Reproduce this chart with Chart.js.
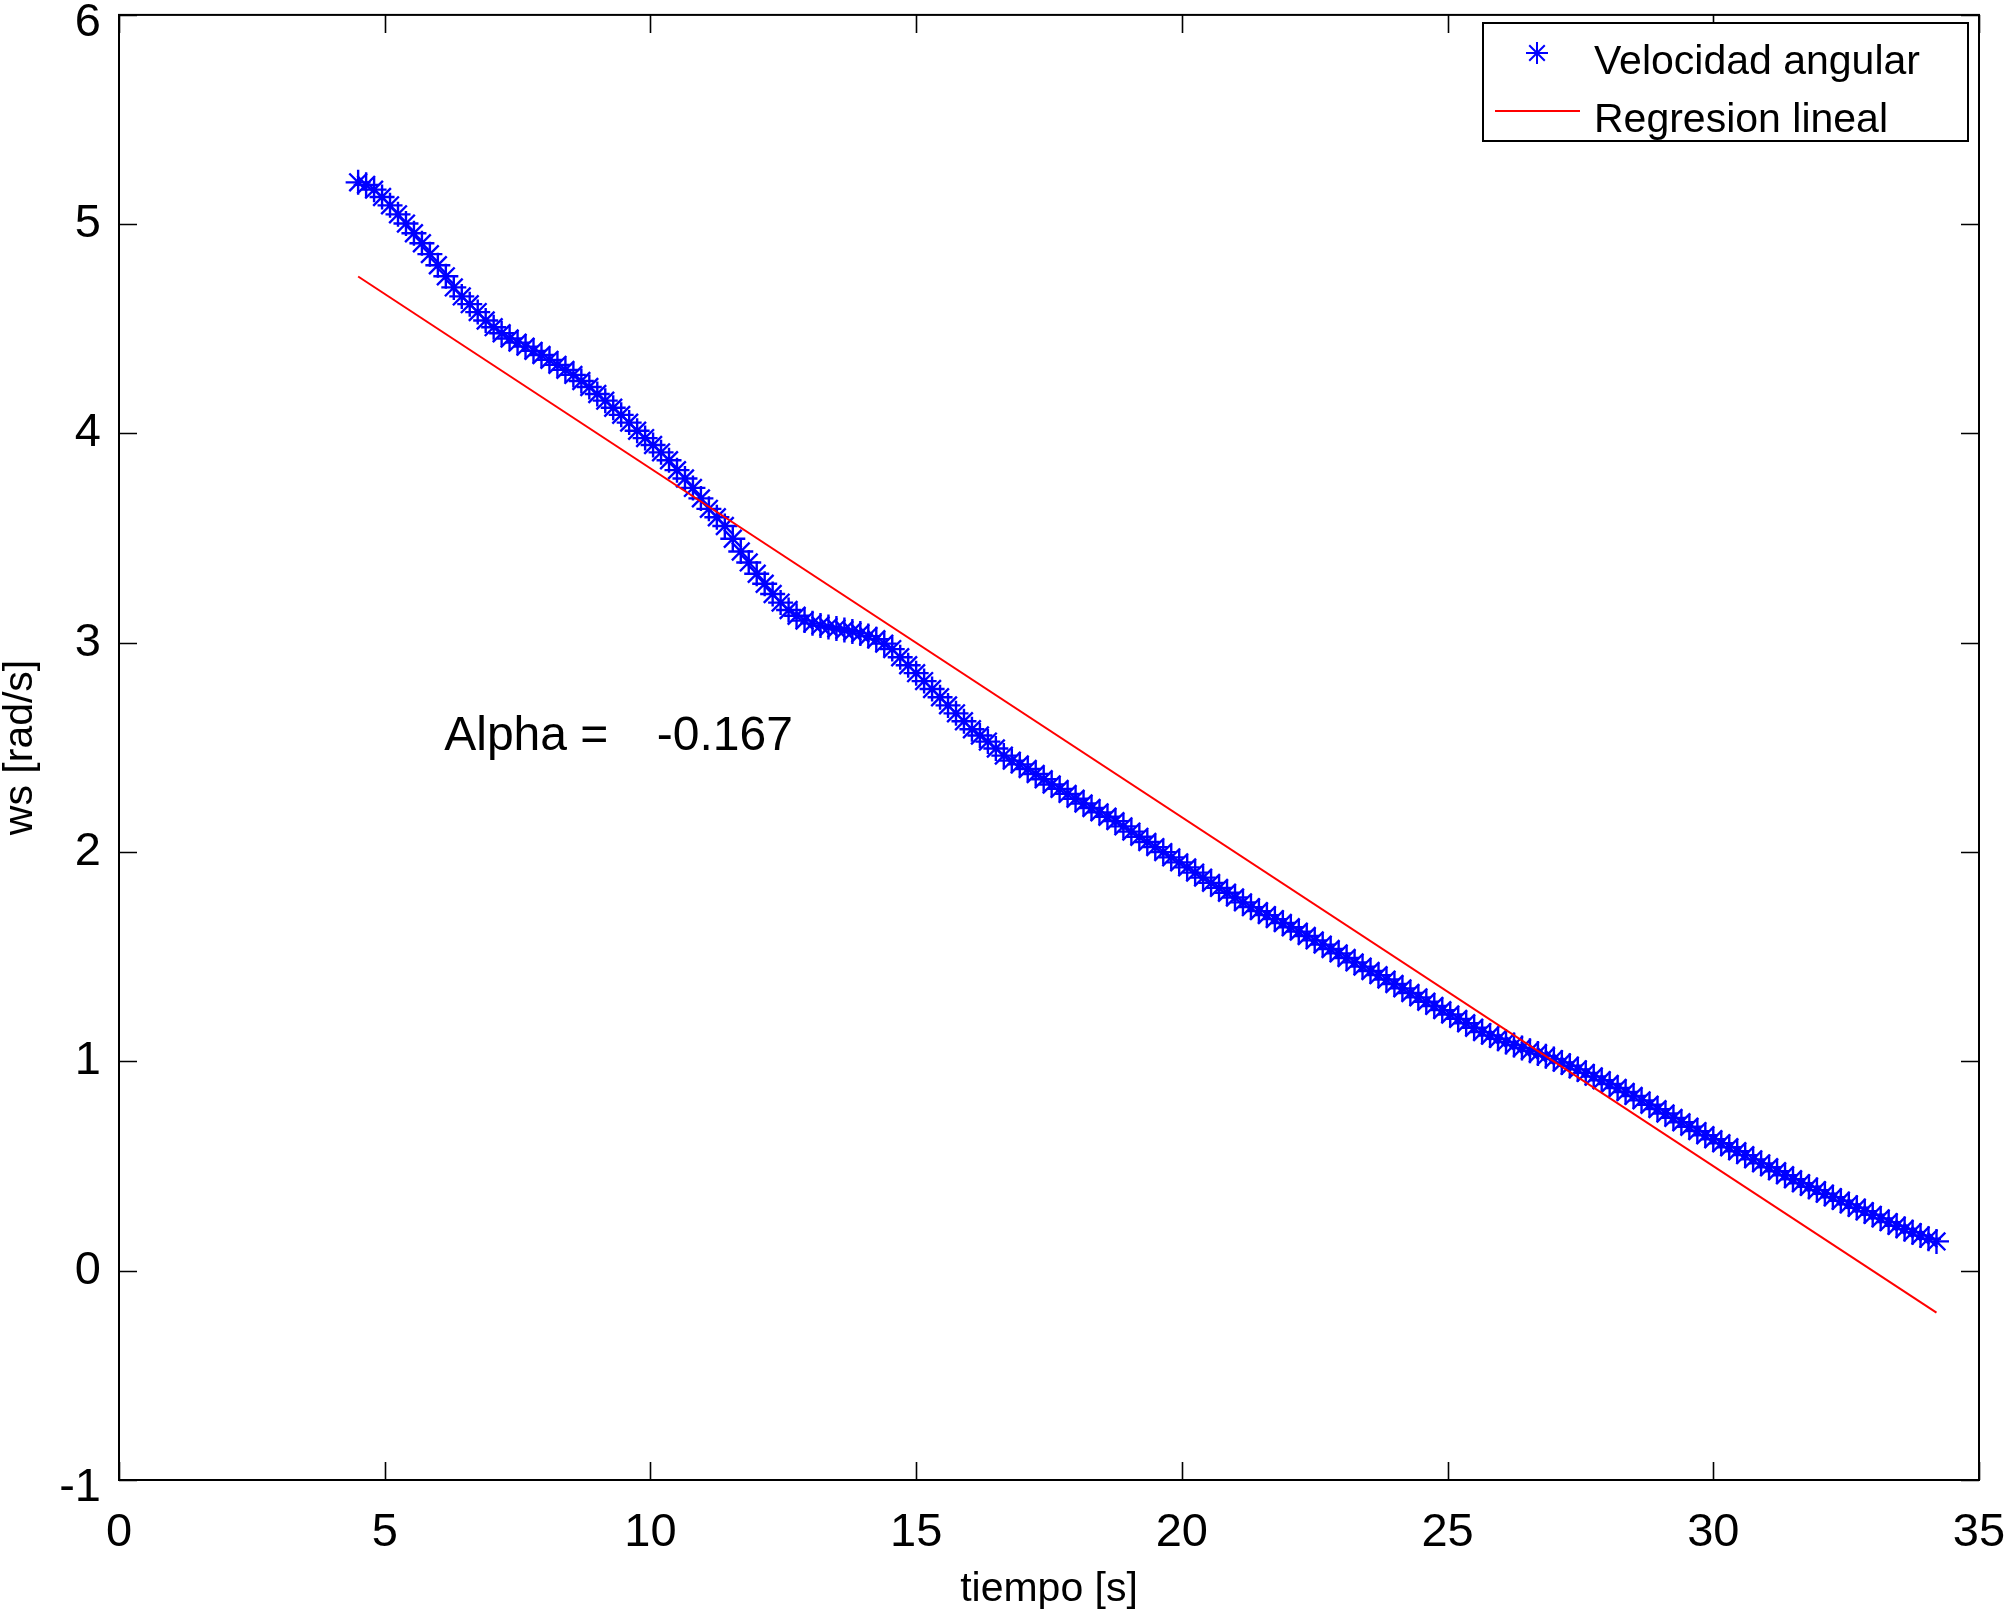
<!DOCTYPE html>
<html>
<head>
<meta charset="utf-8">
<script src="https://cdn.jsdelivr.net/npm/chart.js@4.4.1/dist/chart.umd.min.js"></script>
<style>
html,body{margin:0;padding:0;background:#fff;}
canvas{display:block;}
</style>
</head>
<body>
<canvas id="c" width="2007" height="1610" style="width:2007px;height:1610px"></canvas>
<script>
// ---- data ----
const tiempo = [
 4.50,4.65,4.80,4.95,5.10,5.25,5.40,5.55,5.70,5.85,
 6.00,6.15,6.30,6.45,6.60,6.75,6.90,7.05,7.20,7.35,
 7.50,7.65,7.80,7.95,8.10,8.25,8.40,8.55,8.70,8.85,
 9.00,9.15,9.30,9.45,9.60,9.75,9.90,10.05,10.20,10.35,
 10.50,10.65,10.80,10.95,11.10,11.25,11.40,11.55,11.70,11.85,
 12.00,12.15,12.30,12.45,12.60,12.75,12.90,13.05,13.20,13.35,
 13.50,13.65,13.80,13.95,14.10,14.25,14.40,14.55,14.70,14.85,
 15.00,15.15,15.30,15.45,15.60,15.75,15.90,16.05,16.20,16.35,
 16.50,16.65,16.80,16.95,17.10,17.25,17.40,17.55,17.70,17.85,
 18.00,18.15,18.30,18.45,18.60,18.75,18.90,19.05,19.20,19.35,
 19.50,19.65,19.80,19.95,20.10,20.25,20.40,20.55,20.70,20.85,
 21.00,21.15,21.30,21.45,21.60,21.75,21.90,22.05,22.20,22.35,
 22.50,22.65,22.80,22.95,23.10,23.25,23.40,23.55,23.70,23.85,
 24.00,24.15,24.30,24.45,24.60,24.75,24.90,25.05,25.20,25.35,
 25.50,25.65,25.80,25.95,26.10,26.25,26.40,26.55,26.70,26.85,
 27.00,27.15,27.30,27.45,27.60,27.75,27.90,28.05,28.20,28.35,
 28.50,28.65,28.80,28.95,29.10,29.25,29.40,29.55,29.70,29.85,
 30.00,30.15,30.30,30.45,30.60,30.75,30.90,31.05,31.20,31.35,
 31.50,31.65,31.80,31.95,32.10,32.25,32.40,32.55,32.70,32.85,
 33.00,33.15,33.30,33.45,33.60,33.75,33.90,34.05,34.20
];
const velocidadAngular = [
 5.200,5.188,5.165,5.130,5.090,5.047,5.003,4.957,4.909,4.857,
 4.804,4.751,4.698,4.655,4.618,4.580,4.540,4.508,4.479,4.454,
 4.434,4.415,4.395,4.375,4.352,4.328,4.304,4.280,4.251,4.222,
 4.189,4.157,4.123,4.089,4.052,4.013,3.978,3.945,3.910,3.872,
 3.825,3.785,3.740,3.690,3.640,3.600,3.558,3.497,3.436,3.384,
 3.330,3.282,3.233,3.192,3.157,3.129,3.106,3.093,3.083,3.075,
 3.068,3.061,3.054,3.045,3.032,3.017,2.996,2.970,2.931,2.893,
 2.855,2.817,2.779,2.740,2.701,2.663,2.625,2.587,2.557,2.528,
 2.495,2.461,2.437,2.419,2.397,2.373,2.348,2.323,2.302,2.278,
 2.255,2.232,2.211,2.190,2.169,2.148,2.123,2.098,2.073,2.048,
 2.024,2.000,1.975,1.951,1.927,1.902,1.878,1.853,1.829,1.806,
 1.783,1.760,1.737,1.718,1.699,1.680,1.661,1.641,1.620,1.599,
 1.578,1.558,1.537,1.516,1.494,1.473,1.453,1.432,1.412,1.391,
 1.370,1.349,1.327,1.306,1.285,1.265,1.245,1.224,1.203,1.182,
 1.161,1.140,1.124,1.108,1.093,1.078,1.064,1.051,1.038,1.025,
 1.011,0.995,0.979,0.962,0.945,0.928,0.910,0.892,0.873,0.854,
 0.835,0.814,0.793,0.772,0.751,0.730,0.709,0.688,0.667,0.647,
 0.628,0.609,0.590,0.571,0.552,0.532,0.513,0.494,0.475,0.456,
 0.437,0.418,0.401,0.385,0.368,0.351,0.334,0.317,0.301,0.284,
 0.267,0.250,0.232,0.215,0.199,0.184,0.168,0.153,0.140
];
const regresionT = [4.5, 34.2];
const regresionW = [4.75, -0.20];
const xTickValues = [0, 5, 10, 15, 20, 25, 30, 35];
const yTickValues = [-1, 0, 1, 2, 3, 4, 5, 6];
const serieNombres = ['Velocidad angular', 'Regresion lineal'];
const textoAlpha = 'Alpha =';
const valorAlpha = '-0.167';
const ejeX = 'tiempo [s]';
const ejeY = 'ws [rad/s]';

// ---- styling ----
const FONT = '"Liberation Sans", Arial, Helvetica, sans-serif';
const BLUE = '#0000ff';
const RED = '#ff0000';
const TICK_LEN = 18;

const puntos = tiempo.map((t, i) => ({x: t, y: velocidadAngular[i]}));
const recta = regresionT.map((t, i) => ({x: t, y: regresionW[i]}));

const framePlugin = {
  id: 'framePlugin',
  afterDraw(chart) {
    const {ctx, chartArea: a, scales: {x, y}} = chart;
    ctx.save();
    // frame
    ctx.strokeStyle = '#000';
    ctx.lineWidth = 2;
    ctx.strokeRect(a.left, a.top, a.right - a.left, a.bottom - a.top);
    // inward ticks on all four sides
    ctx.lineWidth = 1.6;
    ctx.beginPath();
    x.ticks.forEach(t => {
      const px = Math.round(x.getPixelForValue(t.value)) + 0.5;
      ctx.moveTo(px, a.bottom); ctx.lineTo(px, a.bottom - TICK_LEN);
      ctx.moveTo(px, a.top); ctx.lineTo(px, a.top + TICK_LEN);
    });
    y.ticks.forEach(t => {
      const py = Math.round(y.getPixelForValue(t.value)) + 0.5;
      ctx.moveTo(a.left, py); ctx.lineTo(a.left + TICK_LEN, py);
      ctx.moveTo(a.right, py); ctx.lineTo(a.right - TICK_LEN, py);
    });
    ctx.stroke();
    // y tick labels
    ctx.fillStyle = '#000';
    ctx.font = '47px ' + FONT;
    ctx.textAlign = 'right';
    ctx.textBaseline = 'middle';
    const n = y.ticks.length;
    y.ticks.forEach((t, i) => {
      let py = y.getPixelForValue(t.value);
      if (i === 0 || i === n - 1) py += 8;
      ctx.fillText(t.label, a.left - 18, py);
    });
    // alpha annotation
    ctx.font = '48px ' + FONT;
    ctx.textAlign = 'left';
    ctx.textBaseline = 'alphabetic';
    ctx.fillText(textoAlpha, x.getPixelForValue(6.12), y.getPixelForValue(2.486));
    ctx.fillText(valorAlpha, x.getPixelForValue(10.12), y.getPixelForValue(2.486));
    // legend box
    const lx = 1483, ly = 23, lw = 485, lh = 118;
    ctx.fillStyle = '#fff';
    ctx.fillRect(lx, ly, lw, lh);
    ctx.strokeStyle = '#000';
    ctx.lineWidth = 2;
    ctx.strokeRect(lx, ly, lw, lh);
    ctx.strokeStyle = BLUE;
    ctx.fillStyle = BLUE;
    Chart.helpers.drawPoint(ctx, {pointStyle: 'star', radius: 11, rotation: 0, borderWidth: 2.2}, 1537, 53);
    ctx.strokeStyle = RED;
    ctx.lineWidth = 2;
    ctx.beginPath();
    ctx.moveTo(1495, 111); ctx.lineTo(1580, 111);
    ctx.stroke();
    ctx.fillStyle = '#000';
    ctx.font = '41px ' + FONT;
    ctx.textAlign = 'left';
    ctx.textBaseline = 'alphabetic';
    ctx.fillText(serieNombres[0], 1594, 74);
    ctx.fillText(serieNombres[1], 1594, 132);
    ctx.restore();
  }
};

new Chart(document.getElementById('c'), {
  type: 'scatter',
  data: {
    datasets: [
      {
        label: serieNombres[0],
        data: puntos,
        showLine: false,
        pointStyle: 'star',
        pointRadius: 12.5,
        pointHoverRadius: 12.5,
        borderColor: BLUE,
        backgroundColor: BLUE,
        pointBorderWidth: 2.4,
        order: 2
      },
      {
        label: serieNombres[1],
        data: recta,
        showLine: true,
        borderColor: RED,
        borderWidth: 2,
        pointRadius: 0,
        fill: false,
        order: 1
      }
    ]
  },
  options: {
    responsive: false,
    animation: false,
    devicePixelRatio: 1,
    events: [],
    layout: {padding: {top: 13, right: 28, bottom: 0, left: 0}},
    plugins: {legend: {display: false}, tooltip: {enabled: false}},
    scales: {
      x: {
        type: 'linear',
        min: 0, max: 35,
        afterBuildTicks(scale) { scale.ticks = xTickValues.map(v => ({value: v})); },
        afterFit(scale) { scale.height = 130; scale.paddingLeft = 0; scale.paddingRight = 0; },
        grid: {display: false, drawTicks: false},
        border: {display: false},
        ticks: {color: '#000', padding: 30, maxRotation: 0, autoSkip: false,
                font: {family: FONT, size: 47, lineHeight: 1}},
        title: {display: true, text: ejeX, color: '#000',
                font: {family: FONT, size: 41, lineHeight: 1}, padding: {top: 0, bottom: 0}}
      },
      y: {
        type: 'linear',
        min: -1, max: 6,
        afterBuildTicks(scale) { scale.ticks = yTickValues.map(v => ({value: v})); },
        afterFit(scale) { scale.width = 119; scale.paddingTop = 0; scale.paddingBottom = 0; },
        grid: {display: false, drawTicks: false},
        border: {display: false},
        ticks: {display: false, font: {family: FONT, size: 47}},
        title: {display: true, text: ejeY, color: '#000',
                font: {family: FONT, size: 41, lineHeight: 1}, padding: {top: 0, bottom: 0}}
      }
    }
  },
  plugins: [framePlugin]
});
</script>
</body>
</html>
